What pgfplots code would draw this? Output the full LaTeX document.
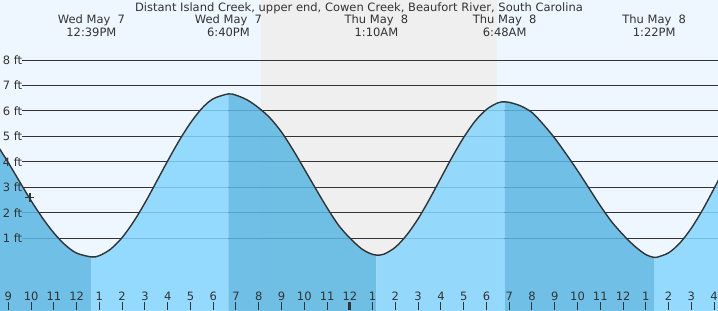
\documentclass[border=0pt]{standalone}
\usepackage{pgfplots}
\pgfplotsset{compat=1.18}
\usepgfplotslibrary{fillbetween}
\usepackage{pgfplotstable}
\usepackage{fontspec}
\setmainfont{DejaVu Sans}
\definecolor{bgday}{HTML}{EEF6FF}
\definecolor{night}{HTML}{EFEFEF}
\definecolor{darkfill}{HTML}{59B6E2}
\definecolor{lightfill}{HTML}{85D6FF}
\definecolor{textc}{HTML}{333333}
\newcommand{\lbl}{\fontsize{11.5}{13}\selectfont}
\pgfplotstableread{
h ft
8.5 4.68
9 3.97
9.5 3.22
10 2.48
10.5 1.80
11 1.21
11.5 0.74
12 0.42
12.65 0.27
13 0.32
13.5 0.58
14 1.03
14.5 1.65
15 2.39
15.5 3.21
16 4.04
16.5 4.83
17 5.53
17.5 6.10
18 6.48
18.667 6.67
19 6.62
19.5 6.43
20 6.12
20.5 5.72
21 5.17
21.5 4.48
22 3.72
22.5 2.95
23 2.20
23.5 1.52
24 1.01
24.5 0.60
24.85 0.42
25.167 0.34
25.5 0.38
26 0.65
26.5 1.13
27 1.77
27.5 2.54
28 3.37
28.5 4.20
29 4.96
29.5 5.60
30 6.06
30.5 6.32
30.8 6.36
31 6.34
31.5 6.20
32 5.94
32.5 5.47
33 4.93
33.5 4.31
34 3.66
34.5 2.97
35 2.28
35.5 1.65
36 1.14
36.5 0.70
37 0.36
37.367 0.25
37.5 0.26
38 0.43
38.5 0.82
39 1.40
39.5 2.13
40 2.96
40.5 3.83
}\tide
\begin{document}
\begin{tikzpicture}
\begin{axis}[
  width=718pt, height=310pt, scale only axis,
  xmin=8.635, xmax=40.17, ymin=-1.814, ymax=10.357,
  axis background/.style={fill=bgday},
  axis line style={draw=none},
  axis on top,
  ytick=\empty,
  xtick={9,...,40},
  xticklabels={9,10,11,12,1,2,3,4,5,6,7,8,9,10,11,12,1,2,3,4,5,6,7,8,9,10,11,12,1,2,3,4},
  xtick pos=bottom,
  tick align=inside,
  major tick length=8pt,
  tick style={draw=textc, line width=1pt},
  xticklabel style={anchor=base, yshift=10pt, font=\lbl, text=textc},
  fill between/on layer=main,
]
% night band
\addplot[draw=none, fill=night] coordinates {(20.099,-3) (20.099,11) (30.465,11) (30.465,-3)} -- cycle;
% grid lines
\addplot[textc, line width=1pt] coordinates {(9.6,1) (41,1)};
\addplot[textc, line width=1pt] coordinates {(9.6,2) (41,2)};
\addplot[textc, line width=1pt] coordinates {(9.6,3) (41,3)};
\addplot[textc, line width=1pt] coordinates {(9.6,4) (41,4)};
\addplot[textc, line width=1pt] coordinates {(9.6,5) (41,5)};
\addplot[textc, line width=1pt] coordinates {(9.6,6) (41,6)};
\addplot[textc, line width=1pt] coordinates {(9.6,7) (41,7)};
\addplot[textc, line width=1pt] coordinates {(9.6,8) (41,8)};
% tide curve (path only)
\addplot[draw=none, name path=tide, smooth] table[x=h, y=ft] {\tide};
\addplot[draw=none, name path=bottom] coordinates {(8,-3) (41,-3)};
\addplot[darkfill, fill opacity=0.85] fill between[of=tide and bottom, soft clip={domain=8:12.65}];
\addplot[lightfill, fill opacity=0.85] fill between[of=tide and bottom, soft clip={domain=12.65:18.667}];
\addplot[darkfill, fill opacity=0.85] fill between[of=tide and bottom, soft clip={domain=18.667:25.167}];
\addplot[lightfill, fill opacity=0.85] fill between[of=tide and bottom, soft clip={domain=25.167:30.8}];
\addplot[darkfill, fill opacity=0.85] fill between[of=tide and bottom, soft clip={domain=30.8:37.367}];
\addplot[lightfill, fill opacity=0.85] fill between[of=tide and bottom, soft clip={domain=37.367:41}];
% visible curve
\addplot[textc, line width=1.4pt, smooth] table[x=h, y=ft] {\tide};
% current time marker
\addplot[only marks, mark=+, mark size=4.5pt, mark options={textc, line width=1.2pt}] coordinates {(9.95,2.6)};
% midnight tick
\draw[textc, line width=3pt] (axis cs:24,-1.814) -- ++(0pt,8pt);
% y labels
\pgfplotsinvokeforeach{1,...,8}{
  \node[anchor=west, inner sep=0pt, xshift=2.7pt, text=textc, font=\lbl] at (axis cs:8.635,#1) {#1 ft};
}
% title and time labels
\node[anchor=base, text=textc, font=\lbl] at (axis cs:24.4025,9.898) {Distant Island Creek, upper end, Cowen Creek, Beaufort River, South Carolina};
\node[anchor=base, text=textc, font=\lbl] at (axis cs:12.65,9.415) {Wed May\ \ 7};
\node[anchor=base, text=textc, font=\lbl] at (axis cs:12.65,8.916) {12:39PM};
\node[anchor=base, text=textc, font=\lbl] at (axis cs:18.667,9.415) {Wed May\ \ 7};
\node[anchor=base, text=textc, font=\lbl] at (axis cs:18.667,8.916) {6:40PM};
\node[anchor=base, text=textc, font=\lbl] at (axis cs:25.167,9.415) {Thu May\ \ 8};
\node[anchor=base, text=textc, font=\lbl] at (axis cs:25.167,8.916) {1:10AM};
\node[anchor=base, text=textc, font=\lbl] at (axis cs:30.8,9.415) {Thu May\ \ 8};
\node[anchor=base, text=textc, font=\lbl] at (axis cs:30.8,8.916) {6:48AM};
\node[anchor=base, text=textc, font=\lbl] at (axis cs:37.367,9.415) {Thu May\ \ 8};
\node[anchor=base, text=textc, font=\lbl] at (axis cs:37.367,8.916) {1:22PM};
\end{axis}
\pgfresetboundingbox
\path (current axis.south west) rectangle (current axis.north east);
\end{tikzpicture}
\end{document}
